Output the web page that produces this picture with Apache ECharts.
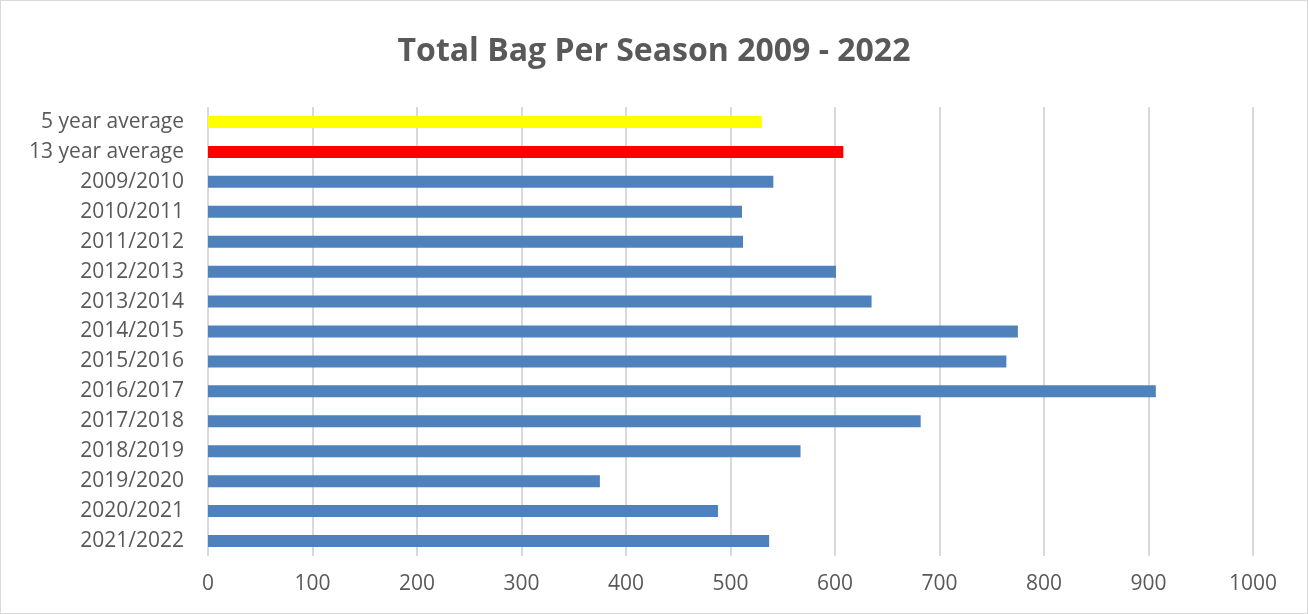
<!DOCTYPE html>
<html>
<head>
<meta charset="utf-8">
<script src="https://cdn.jsdelivr.net/npm/echarts@6/dist/echarts.min.js"></script>
<style>
html,body{margin:0;padding:0;background:#fff;}
#c{position:absolute;left:0;top:0;width:1306px;height:612px;border:1px solid #d9d9d9;}
</style>
</head>
<body>
<div id="c"></div>
<script>
const categories = ["5 year average","13 year average","2009/2010","2010/2011","2011/2012","2012/2013","2013/2014","2014/2015","2015/2016","2016/2017","2017/2018","2018/2019","2019/2020","2020/2021","2021/2022"];
const values = [530,608,541,511,512,601,635,775,764,907,682,567,375,488,537];
const barColors = ["#FFFF00","#FF0000","#4F81BD","#4F81BD","#4F81BD","#4F81BD","#4F81BD","#4F81BD","#4F81BD","#4F81BD","#4F81BD","#4F81BD","#4F81BD","#4F81BD","#4F81BD"];
const xTicks = {min:0,max:1000,interval:100};

const chart = echarts.init(document.getElementById('c'));
chart.setOption({
  animation:false,
  title:{text:"Total Bag Per Season 2009 - 2022",left:'center',top:30,
    textStyle:{fontFamily:'Open Sans',fontWeight:'bold',fontSize:32,color:'#595959'}},
  grid:{left:207,right:54,top:106,bottom:57,containLabel:false},
  xAxis:{type:'value',min:xTicks.min,max:xTicks.max,interval:xTicks.interval,
    axisLine:{show:false},axisTick:{show:false},
    axisLabel:{fontFamily:'Open Sans',fontSize:21,color:'#595959',margin:18,formatter:v=>String(v)},
    splitLine:{show:true,lineStyle:{color:'#d9d9d9',width:2}}},
  yAxis:{type:'category',data:categories,inverse:true,
    axisLine:{show:false},axisTick:{show:false},
    axisLabel:{fontFamily:'Open Sans',fontSize:21,color:'#595959',margin:24}},
  series:[{type:'bar',barWidth:12,
    data:values.map((v,i)=>({value:v,itemStyle:{color:barColors[i]}}))}]
});
</script>
</body>
</html>
